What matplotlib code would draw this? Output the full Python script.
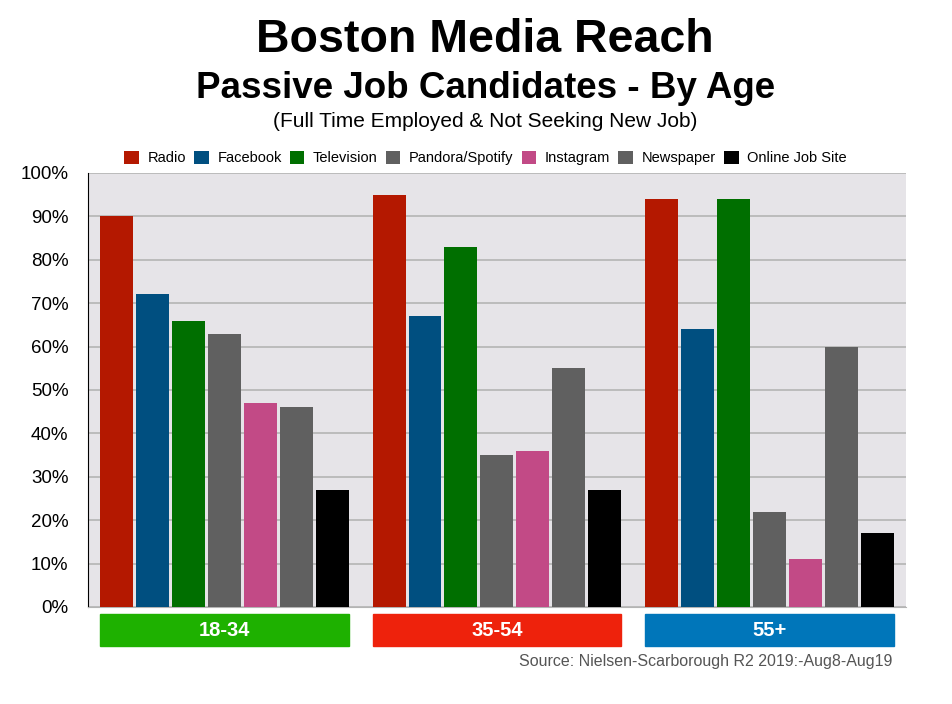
import numpy as np
import matplotlib.pyplot as plt
from matplotlib.patches import Rectangle

plt.rcParams['font.family'] = ['Liberation Sans', 'DejaVu Sans']

groups = ['18-34', '35-54', '55+']
media = ['Radio', 'Facebook', 'Television', 'Pandora/Spotify', 'Instagram', 'Newspaper', 'Online Job Site']
reach = {
    'Radio':           [90, 95, 94],
    'Facebook':        [72, 67, 64],
    'Television':      [66, 83, 94],
    'Pandora/Spotify': [63, 35, 22],
    'Instagram':       [47, 36, 11],
    'Newspaper':       [46, 55, 60],
    'Online Job Site': [27, 27, 17],
}
bar_colors = ['#b41800', '#004f80', '#006f00', '#606060', '#c24a86', '#606060', '#000000']
group_colors = ['#1eb100', '#ee220c', '#0076ba']

fig = plt.figure(figsize=(9.53, 7.04), dpi=100)
ax = fig.add_axes([0.0923, 0.1378, 0.8584, 0.6165])
ax.set_facecolor('#e6e4e8')

x = np.arange(len(groups))
step = 0.132
width = 0.121
for i, m in enumerate(media):
    ax.bar(x + (i - 3) * step, reach[m], width, color=bar_colors[i], label=m, zorder=3)

ax.set_xlim(-0.5, 2.5)
ax.set_ylim(0, 100)
ax.set_yticks(range(0, 101, 10))
ax.set_yticklabels([f'{v}%' for v in range(0, 101, 10)], fontsize=13.5)
ax.set_xticks([])
ax.grid(axis='y', color='#b4b4b4', linewidth=1.2, zorder=1)
for s in ['top', 'right']:
    ax.spines[s].set_visible(False)
ax.spines['left'].set_color('black')
ax.spines['bottom'].set_color('#b4b4b4')
ax.tick_params(axis='y', length=0, pad=14)

# group label boxes below the axes
for i, g in enumerate(groups):
    left = x[i] - 3 * step - width / 2
    right = x[i] + 3 * step + width / 2
    ax.add_patch(Rectangle((left, -0.09), right - left, 0.074, transform=ax.get_xaxis_transform(),
                           color=group_colors[i], clip_on=False))
    ax.text(x[i], -0.055, g, transform=ax.get_xaxis_transform(), ha='center', va='center',
            color='white', fontsize=14.5, fontweight='bold')

ax.legend(loc='center', bbox_to_anchor=(0.486, 1.035), ncol=7, frameon=False, fontsize=10.5,
          handlelength=1.0, handleheight=1.0, handletextpad=0.6, columnspacing=0.55)

fig.text(0.509, 0.943, 'Boston Media Reach', ha='center', va='center', fontsize=33.5, fontweight='bold')
fig.text(0.509, 0.874, 'Passive Job Candidates - By Age', ha='center', va='center', fontsize=26.5, fontweight='bold')
fig.text(0.509, 0.828, '(Full Time Employed & Not Seeking New Job)', ha='center', va='center', fontsize=15)
fig.text(0.936, 0.06, 'Source: Nielsen-Scarborough R2 2019:-Aug8-Aug19', ha='right', va='center',
         fontsize=11.5, color='#555555')

fig.savefig('out.png', dpi=100)
